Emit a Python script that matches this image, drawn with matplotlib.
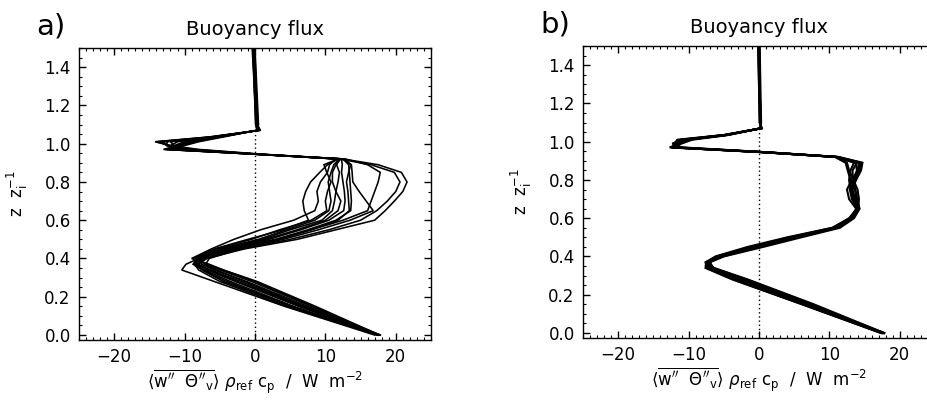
import matplotlib
matplotlib.use("Agg")
import matplotlib.pyplot as plt
from matplotlib.ticker import MultipleLocator

# height levels z/zi shared by every profile
z_levels = [0.00, 0.15, 0.28, 0.34, 0.37, 0.40, 0.45, 0.50, 0.55, 0.60, 0.65, 0.70, 0.75,
            0.80, 0.85, 0.89, 0.92, 0.945, 0.97, 0.99, 1.01, 1.035, 1.07, 1.10, 1.50]

# buoyancy flux profiles (W m-2), one row per run, left panel
flux_a = [
    [17.5, 6.5, -2.5, -6.5, -8.0, -7.0, -1.5, 6.0, 11.5, 17.0, 18.5, 19.8, 21.0, 21.6, 20.8, 17.5, 12.5, 1.0, -8.0, -12.0, -14.2, -6.5, 0.6, 0.4, -0.1],
    [17.8, 8.0, -0.5, -5.0, -7.0, -6.5, -2.0, 5.0, 10.5, 15.0, 17.3, 18.8, 20.0, 20.6, 19.8, 16.5, 12.0, 0.5, -12.5, -10.0, -8.0, -4.5, 0.3, 0.1, -0.3],
    [17.0, 4.2, -5.8, -10.4, -9.8, -8.0, -3.5, 3.0, 8.0, 12.5, 16.0, 16.5, 17.0, 17.5, 17.8, 16.0, 12.8, 0.0, -9.0, -12.5, -13.5, -6.0, 0.5, 0.3, -0.2],
    [17.6, 5.0, -4.5, -7.5, -8.2, -6.8, -2.5, 4.0, 9.0, 13.5, 16.8, 15.8, 14.8, 13.9, 13.8, 13.7, 12.5, 0.8, -10.0, -11.5, -12.0, -5.5, 0.8, 0.2, -0.4],
    [17.5, 6.2, -2.8, -6.8, -8.2, -7.2, -3.0, 3.0, 7.5, 11.5, 13.6, 13.7, 13.6, 13.5, 13.4, 13.3, 12.5, 0.3, -13.0, -11.0, -9.0, -5.0, 0.4, 0.5, 0.0],
    [17.4, 4.5, -5.0, -8.0, -8.6, -7.5, -3.5, 3.5, 8.0, 11.8, 13.4, 13.3, 13.2, 13.0, 13.3, 13.6, 12.8, 0.5, -8.5, -12.0, -14.0, -6.5, 0.7, 0.3, -0.2],
    [17.6, 7.5, -1.2, -5.8, -7.6, -7.6, -4.0, 2.0, 6.5, 10.5, 12.6, 12.8, 12.7, 12.5, 12.3, 12.4, 12.3, 0.0, -12.8, -10.5, -8.5, -4.8, 0.3, 0.1, -0.3],
    [17.3, 5.5, -3.5, -7.2, -8.6, -8.0, -4.5, 1.0, 5.0, 9.5, 11.0, 11.3, 11.5, 11.8, 12.0, 11.6, 12.0, 0.2, -9.5, -12.5, -13.0, -6.0, 0.6, 0.4, -0.1],
    [17.5, 5.2, -4.0, -7.5, -8.8, -8.2, -5.0, 0.5, 4.5, 8.5, 10.5, 10.8, 10.6, 10.4, 10.8, 11.2, 12.0, -0.2, -12.0, -11.0, -9.5, -5.2, 0.4, 0.2, -0.2],
    [17.7, 8.6, 0.3, -4.5, -6.8, -8.5, -5.5, -0.5, 3.5, 8.0, 10.2, 10.0, 10.3, 10.8, 10.2, 9.8, 11.8, 0.0, -11.0, -12.0, -11.0, -5.5, 0.5, 0.3, -0.3],
    [17.4, 6.8, -2.0, -6.3, -8.3, -8.8, -5.8, -1.0, 4.0, 7.6, 7.0, 6.8, 7.2, 7.9, 9.2, 10.3, 11.8, 0.0, -12.5, -10.5, -9.0, -5.0, 0.3, 0.2, 0.0],
    [17.5, 8.2, 0.0, -4.5, -6.5, -9.0, -6.2, -3.0, 0.8, 5.5, 8.5, 9.0, 8.8, 9.3, 10.3, 10.6, 11.5, 0.5, -10.5, -12.5, -12.5, -6.0, 0.5, 0.4, -0.2],
    [17.8, 7.0, -1.5, -5.5, -7.2, -8.0, -4.8, 1.5, 6.0, 10.0, 11.8, 12.2, 11.5, 11.0, 11.0, 11.5, 12.2, 0.6, -11.5, -11.5, -10.0, -5.5, 0.4, 0.2, -0.1],
]

# right panel runs
flux_b = [
    [17.5, 6.6, -2.9, -7.0, -7.3, -5.6, -0.6, 5.0, 11.0, 13.2, 14.2, 14.0, 13.6, 13.0, 12.6, 12.3, 10.8, 0.6, -12.5, -11.5, -10.0, -4.5, 0.3, 0.2, 0.0],
    [17.8, 7.2, -1.8, -6.5, -7.0, -5.0, 0.6, 6.0, 11.5, 13.5, 14.3, 13.8, 13.2, 13.8, 14.5, 14.7, 11.3, 1.0, -11.0, -12.0, -11.6, -5.0, 0.4, 0.1, -0.1],
    [17.3, 6.1, -3.8, -7.6, -7.5, -6.2, -1.6, 4.0, 10.4, 12.9, 14.0, 13.6, 13.0, 12.8, 13.0, 13.5, 11.0, 0.4, -12.7, -11.0, -9.5, -4.3, 0.2, 0.3, 0.1],
    [17.6, 6.9, -2.4, -6.8, -7.1, -5.3, 0.2, 5.5, 11.1, 13.1, 13.8, 12.8, 12.5, 13.2, 14.0, 14.3, 11.1, 0.8, -11.5, -12.3, -11.0, -4.8, 0.3, 0.2, -0.1],
    [17.4, 6.3, -3.4, -7.2, -7.3, -5.8, -1.2, 4.5, 10.8, 13.0, 14.1, 14.2, 14.0, 13.4, 12.8, 12.5, 10.9, 0.5, -12.3, -11.2, -10.2, -4.6, 0.3, 0.2, 0.0],
    [17.7, 7.0, -2.0, -6.6, -7.0, -5.2, -0.4, 5.2, 11.2, 13.3, 14.0, 13.2, 12.9, 13.6, 14.3, 14.5, 11.2, 0.9, -11.8, -11.8, -11.2, -4.9, 0.4, 0.1, -0.1],
    [17.5, 6.2, -3.6, -7.4, -7.6, -6.0, -1.0, 4.5, 10.5, 12.8, 13.9, 13.4, 13.3, 13.7, 13.9, 13.8, 11.0, 0.5, -12.0, -11.4, -10.5, -4.6, 0.3, 0.2, 0.0],
    [17.6, 6.6, -2.9, -7.0, -7.2, -5.7, -0.6, 5.0, 11.0, 13.1, 14.2, 13.9, 13.7, 13.3, 13.3, 13.9, 11.2, 0.7, -12.4, -11.6, -10.4, -4.7, 0.3, 0.2, 0.0],
    [17.8, 7.8, -1.6, -6.4, -7.2, -5.4, -0.5, 5.0, 11.0, 13.2, 14.0, 13.5, 13.2, 13.5, 14.1, 14.2, 11.0, 0.6, -12.2, -11.5, -10.6, -4.7, 0.3, 0.2, 0.0],
]

panel_tags = ["a)", "b)"]
title = "Buoyancy flux"
xlabel = r"$\langle\overline{\mathrm{w''}\ \ \Theta''_{\mathrm{v}}}\rangle\ \rho_{\mathrm{ref}}\ \mathrm{c_p}\ \ /\ \ \mathrm{W\ \ m^{-2}}$"
ylabel = r"$\mathrm{z\ \ z_i^{-1}}$"
line_widths = [1.15, 1.5]

plt.rcParams["font.family"] = "DejaVu Sans"
plt.rcParams["mathtext.fontset"] = "dejavusans"

fig = plt.figure(figsize=(9.27, 4.03), dpi=100)
boxes = [[0.0852, 0.1563, 0.3797, 0.7246], [0.6289, 0.1613, 0.3797, 0.7246]]

for box, runs, tag, lw in zip(boxes, [flux_a, flux_b], panel_tags, line_widths):
    ax = fig.add_axes(box)
    ax.set_xlim(-25, 25)
    ax.set_ylim(-0.026, 1.5)
    # zero line, dotted, stops under the free-troposphere part of the profiles
    ax.axvline(0, ymax=0.72, color="black", lw=1.0, linestyle=(0, (1, 2)))
    for run in runs:
        ax.plot(run, z_levels, color="black", lw=lw, solid_joinstyle="miter")

    ax.xaxis.set_major_locator(MultipleLocator(10))
    ax.xaxis.set_minor_locator(MultipleLocator(1))
    ax.yaxis.set_major_locator(MultipleLocator(0.2))
    ax.yaxis.set_minor_locator(MultipleLocator(0.05))
    ax.tick_params(which="both", direction="in", top=True, right=True, labelsize=12, pad=6)
    ax.tick_params(which="major", length=5, width=1)
    ax.tick_params(which="minor", length=2.5, width=0.8)
    for sp in ax.spines.values():
        sp.set_linewidth(1.0)

    ax.set_xlabel(xlabel, fontsize=12, labelpad=1)
    ax.set_ylabel(ylabel, fontsize=12, labelpad=10)
    ax.text(0.5, 1.045, title, transform=ax.transAxes, ha="center", va="baseline", fontsize=14)
    ax.text(-0.12, 1.045, tag, transform=ax.transAxes, ha="left", va="baseline", fontsize=21)

fig.savefig("out.png", dpi=100)
